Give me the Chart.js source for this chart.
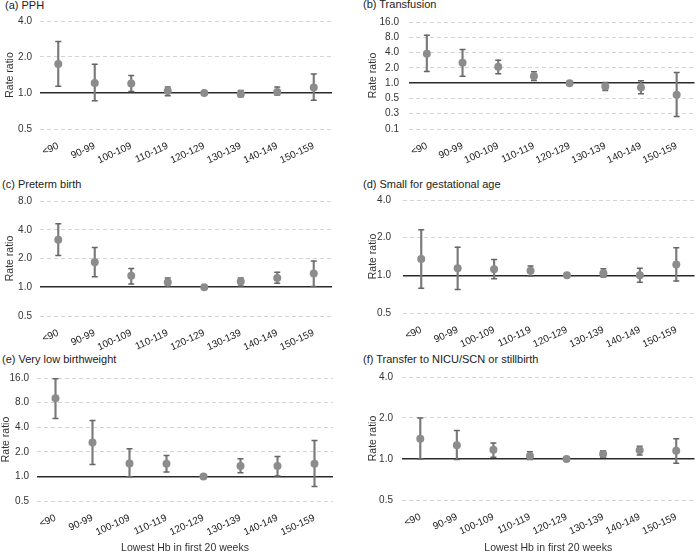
<!DOCTYPE html>
<html>
<head>
<meta charset="utf-8">
<script src="https://cdn.jsdelivr.net/npm/chart.js@4.4.1/dist/chart.umd.min.js"></script>
<style>
  body { margin: 0; background: #fff; }
  #wrap { position: relative; width: 700px; height: 554px; overflow: hidden; }
  #wrap canvas { position: absolute; }
  .ptitle { position: absolute; font: 11px "Liberation Sans", Arial, sans-serif; color: #222; white-space: nowrap; }
</style>
</head>
<body>
<div id="wrap">
  <div class="ptitle" style="left:5px;top:-1px">(a) PPH</div>
  <div class="ptitle" style="left:363px;top:-2px">(b) Transfusion</div>
  <div class="ptitle" style="left:2px;top:178px">(c) Preterm birth</div>
  <div class="ptitle" style="left:363px;top:178px">(d) Small for gestational age</div>
  <div class="ptitle" style="left:2px;top:353px">(e) Very low birthweight</div>
  <div class="ptitle" style="left:363px;top:353px">(f) Transfer to NICU/SCN or stillbirth</div>
  <canvas id="cA" width="350" height="180" style="left:0;top:0"></canvas>
  <canvas id="cB" width="350" height="180" style="left:350px;top:0"></canvas>
  <canvas id="cC" width="350" height="180" style="left:0;top:180px"></canvas>
  <canvas id="cD" width="350" height="180" style="left:350px;top:180px"></canvas>
  <canvas id="cE" width="350" height="194" style="left:0;top:360px"></canvas>
  <canvas id="cF" width="350" height="194" style="left:350px;top:360px"></canvas>
</div>
<script>
// Hb groups (g/L)
const categories = ['<90', '90-99', '100-109', '110-119', '120-129', '130-139', '140-149', '150-159'];

// (a) PPH
const pphRR = [1.75, 1.21, 1.20, 1.04, 1.00, 0.98, 1.02, 1.11];
const pphLo = [1.14, 0.86, 1.03, 0.95, null, 0.93, 0.96, 0.87];
const pphHi = [2.69, 1.74, 1.40, 1.12, null, 1.05, 1.12, 1.44];

// (b) Transfusion
const transRR = [3.78, 2.51, 2.10, 1.37, 1.00, 0.86, 0.82, 0.59];
const transLo = [1.70, 1.37, 1.53, 1.13, null, 0.72, 0.62, 0.22];
const transHi = [8.8, 4.6, 2.83, 1.67, null, 1.03, 1.11, 1.62];

// (c) Preterm birth
const pretermRR = [3.14, 1.83, 1.32, 1.13, 1.00, 1.15, 1.25, 1.39];
const pretermLo = [2.15, 1.29, 1.08, 1.03, null, 1.03, 1.10, 1.02];
const pretermHi = [4.63, 2.61, 1.57, 1.25, null, 1.25, 1.44, 1.88];

// (d) Small for gestational age
const sgaRR = [1.35, 1.14, 1.12, 1.09, 1.00, 1.04, 1.00, 1.22];
const sgaLo = [0.79, 0.77, 0.94, 0.99, null, 0.97, 0.88, 0.90];
const sgaHi = [2.31, 1.68, 1.34, 1.19, null, 1.13, 1.14, 1.66];

// (e) Very low birthweight
const vlbwRR = [9.05, 2.60, 1.44, 1.43, 1.00, 1.34, 1.34, 1.43];
const vlbwLo = [5.1, 1.40, 0.99, 1.13, null, 1.11, 1.01, 0.75];
const vlbwHi = [15.7, 4.83, 2.18, 1.80, null, 1.64, 1.75, 2.75];

// (f) Transfer to NICU/SCN or stillbirth
const nicuRR = [1.41, 1.26, 1.17, 1.05, 1.00, 1.09, 1.16, 1.15];
const nicuLo = [1.00, 0.99, 1.03, 0.99, null, 1.03, 1.07, 0.93];
const nicuHi = [2.00, 1.62, 1.31, 1.13, null, 1.15, 1.24, 1.41];

// y tick values (log scale)
const ticksA = [0.5, 1, 2, 4];
const ticksB = [0.125, 0.25, 0.5, 1, 2, 4, 8, 16];
const ticksC = [0.5, 1, 2, 4, 8];
const ticksE = [0.5, 1, 2, 4, 8, 16];

const FONT = '"Liberation Sans", Arial, sans-serif';
Chart.defaults.font.family = FONT;
Chart.defaults.color = '#333';

function makePanel(id, rr, lo, hi, ticks, box) {
    const ctx = document.getElementById(id).getContext('2d');
    const h = ctx.canvas.height;
    const titleLH = 10.5 * 1.2;
    return new Chart(ctx, {
        type: 'bar',
        data: {
            labels: categories,
            datasets: [
                {   // point estimates
                    type: 'line', data: rr, showLine: false, order: 0,
                    pointRadius: 4, pointBackgroundColor: '#8c8c8c', pointBorderWidth: 0
                },
                {   // upper caps
                    type: 'line', data: hi, showLine: false, order: 1,
                    pointStyle: 'line', pointRadius: 3, pointBorderColor: '#666', pointBorderWidth: 1.5
                },
                {   // lower caps
                    type: 'line', data: lo, showLine: false, order: 1,
                    pointStyle: 'line', pointRadius: 3, pointBorderColor: '#666', pointBorderWidth: 1.5
                },
                {   // CI whiskers
                    type: 'bar', order: 2,
                    data: lo.map((l, i) => l == null ? null : [l, hi[i]]),
                    backgroundColor: '#7a7a7a', barThickness: 1.5, borderWidth: 0
                }
            ]
        },
        options: {
            responsive: false,
            animation: false,
            devicePixelRatio: 1,
            layout: { padding: { top: box.top, right: 350 - box.right, bottom: 0, left: 0 } },
            plugins: { legend: { display: false }, tooltip: { enabled: false } },
            scales: {
                x: {
                    grid: { display: false },
                    border: { display: false },
                    ticks: { autoSkip: false, minRotation: 25, maxRotation: 25, padding: 3, color: '#222', font: { size: 10 } },
                    title: {
                        display: !!box.xTitle, text: 'Lowest Hb in first 20 weeks',
                        color: '#333', font: { size: 10.5 }, padding: { top: 0, bottom: 0 }
                    },
                    afterFit: s => { s.height = h - box.bottom; }
                },
                y: {
                    type: 'logarithmic',
                    min: ticks[0],
                    max: ticks[ticks.length - 1],
                    afterBuildTicks: s => { s.ticks = ticks.map(v => ({ value: v })); },
                    grid: {
                        drawTicks: false,
                        color: c => (c.tick && c.tick.value === 1) ? '#2a2a2a' : '#d4d4d4',
                        lineWidth: c => (c.tick && c.tick.value === 1) ? 1.6 : 1
                    },
                    border: {
                        display: false,
                        dash: c => (c.tick && c.tick.value === 1) ? [] : [4, 3]
                    },
                    ticks: {
                        autoSkip: false,
                        padding: box.tickPad, color: '#333', font: { size: 10 },
                        callback: v => Number(v).toFixed(1)
                    },
                    title: {
                        display: true, text: 'Rate ratio', color: '#333', font: { size: 10.5 },
                        padding: { top: Math.max(box.titleX - titleLH / 2, 0), bottom: 0 }
                    },
                    afterFit: s => { s.width = box.left; }
                }
            }
        }
    });
}

makePanel('cA', pphRR, pphLo, pphHi, ticksA, { left: 40, right: 332, top: 21, bottom: 129, tickPad: 8, titleX: 10 });
makePanel('cB', transRR, transLo, transHi, ticksB, { left: 59, right: 348, top: 22, bottom: 129, tickPad: 10, titleX: 23 });
makePanel('cC', pretermRR, pretermLo, pretermHi, ticksC, { left: 40, right: 332, top: 21, bottom: 136, tickPad: 8, titleX: 10 });
makePanel('cD', sgaRR, sgaLo, sgaHi, ticksA, { left: 53, right: 349, top: 20, bottom: 133, tickPad: 12, titleX: 23 });
makePanel('cE', vlbwRR, vlbwLo, vlbwHi, ticksE, { left: 37, right: 333, top: 18, bottom: 141, tickPad: 8, titleX: 6, xTitle: true });
makePanel('cF', nicuRR, nicuLo, nicuHi, ticksA, { left: 52, right: 345, top: 17, bottom: 140, tickPad: 9, titleX: 23, xTitle: true });
</script>
</body>
</html>
